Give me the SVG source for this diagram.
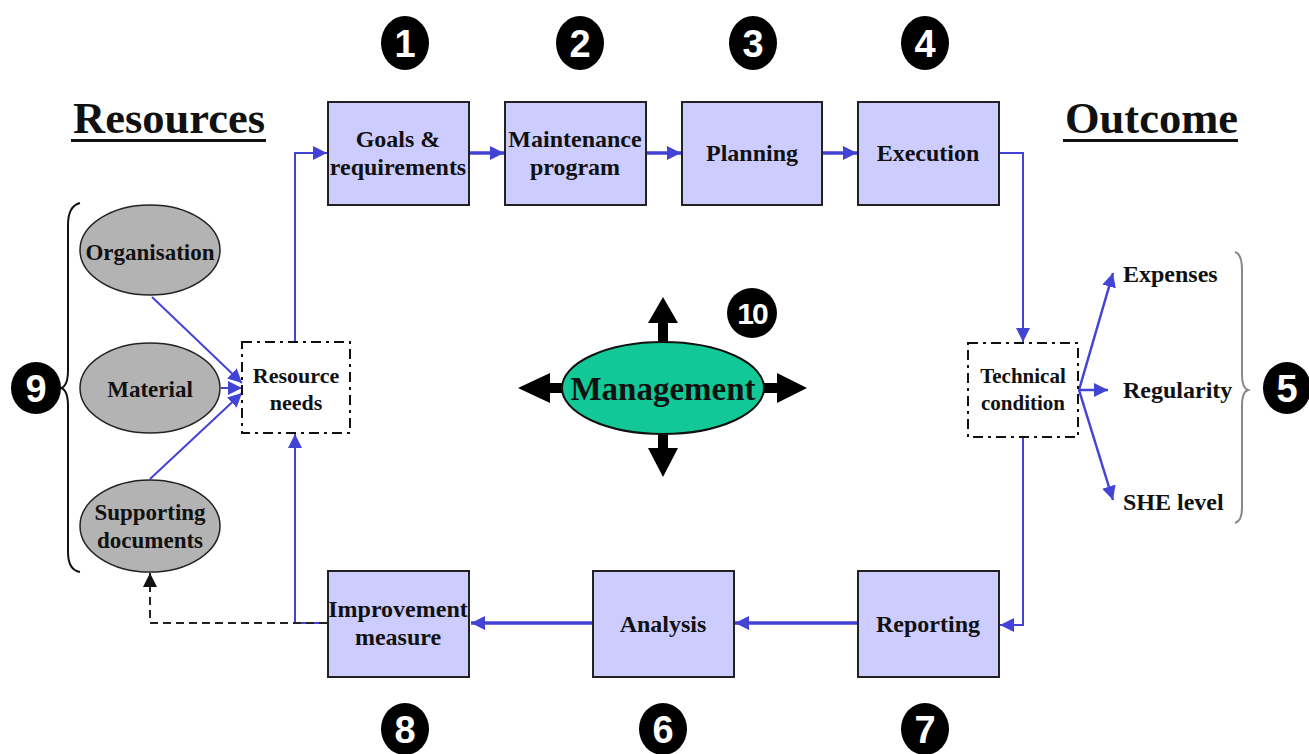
<svg xmlns="http://www.w3.org/2000/svg" width="1309" height="754" viewBox="0 0 1309 754">
<defs>
<style>
.box{fill:#ccccff;stroke:#222;stroke-width:2}
.ell{fill:#b3b3b3;stroke:#222;stroke-width:1.5}
.dd{fill:none;stroke:#111;stroke-width:2;stroke-dasharray:10 5 3 5}
.t{font-family:"Liberation Serif","Times New Roman",serif;font-weight:bold;fill:#111;text-anchor:middle}
.tl{font-family:"Liberation Serif","Times New Roman",serif;font-weight:bold;fill:#111}
.b{fill:none;stroke:#4343d6}
.num ellipse{fill:#000}
.num text{font-family:"Liberation Sans",Arial,sans-serif;font-weight:bold;fill:#fff;text-anchor:middle}
</style>
<marker id="ab" markerUnits="userSpaceOnUse" markerWidth="14" markerHeight="14" refX="14" refY="7" orient="auto"><path d="M0,0 L14,7 L0,14 z" fill="#4343d6"/></marker>
<marker id="ak" markerUnits="userSpaceOnUse" markerWidth="14" markerHeight="14" refX="14" refY="7" orient="auto"><path d="M0,0 L14,7 L0,14 z" fill="#111"/></marker>
</defs>
<rect width="1309" height="754" fill="#fff"/>

<g id="headers">
<text class="tl" x="73" y="133" font-size="44.5">Resources</text>
<rect x="71" y="139" width="195" height="3" fill="#111"/>
<text class="tl" x="1065" y="133" font-size="44.5">Outcome</text>
<rect x="1063" y="139" width="175" height="3" fill="#111"/>
</g>

<g id="connectors">
<line class="b" stroke-width="3.5" x1="470" y1="153" x2="504" y2="153" marker-end="url(#ab)"/>
<line class="b" stroke-width="3.5" x1="646" y1="153" x2="681" y2="153" marker-end="url(#ab)"/>
<line class="b" stroke-width="3.5" x1="822" y1="153" x2="857" y2="153" marker-end="url(#ab)"/>
<path class="b" stroke-width="2" d="M999,153 H1023 V342" marker-end="url(#ab)"/>
<path class="b" stroke-width="2" d="M1023,437 V625 H1000" marker-end="url(#ab)"/>
<line class="b" stroke-width="3.5" x1="857" y1="623" x2="735" y2="623" marker-end="url(#ab)"/>
<line class="b" stroke-width="3.5" x1="592" y1="623" x2="471" y2="623" marker-end="url(#ab)"/>
<path class="b" stroke-width="2" d="M327,623 H295 V434" marker-end="url(#ab)"/>
<path class="b" stroke-width="2" d="M295,342 V153 H327" marker-end="url(#ab)"/>
<path fill="none" stroke="#222" stroke-width="2" stroke-dasharray="8 5" d="M327,623 H150 V573" marker-end="url(#ak)"/>
<line class="b" stroke-width="2" x1="152" y1="297" x2="242" y2="383" marker-end="url(#ab)"/>
<line class="b" stroke-width="2" x1="221" y1="388" x2="242" y2="388" marker-end="url(#ab)"/>
<line class="b" stroke-width="2" x1="150" y1="479" x2="242" y2="393" marker-end="url(#ab)"/>
<line class="b" stroke-width="2.5" x1="1079" y1="390" x2="1113" y2="273" marker-end="url(#ab)"/>
<line class="b" stroke-width="2.5" x1="1079" y1="390" x2="1108" y2="390" marker-end="url(#ab)"/>
<line class="b" stroke-width="2.5" x1="1079" y1="390" x2="1113" y2="500" marker-end="url(#ab)"/>
</g>

<g id="goals">
<rect class="box" x="328" y="102" width="141" height="103"/>
<text class="t" x="398" y="147" font-size="24">Goals &amp;</text>
<text class="t" x="398" y="175" font-size="24">requirements</text>
</g>
<g id="maintenance">
<rect class="box" x="505" y="102" width="141" height="103"/>
<text class="t" x="575" y="147" font-size="24">Maintenance</text>
<text class="t" x="575" y="175" font-size="24">program</text>
</g>
<g id="planning">
<rect class="box" x="682" y="102" width="140" height="103"/>
<text class="t" x="752" y="161" font-size="24">Planning</text>
</g>
<g id="execution">
<rect class="box" x="858" y="102" width="141" height="103"/>
<text class="t" x="928" y="161" font-size="24">Execution</text>
</g>
<g id="reporting">
<rect class="box" x="858" y="571" width="141" height="106"/>
<text class="t" x="928" y="632" font-size="24">Reporting</text>
</g>
<g id="analysis">
<rect class="box" x="593" y="571" width="141" height="106"/>
<text class="t" x="663" y="632" font-size="24">Analysis</text>
</g>
<g id="improvement">
<rect class="box" x="328" y="571" width="141" height="106"/>
<text class="t" x="398" y="617" font-size="24">Improvement</text>
<text class="t" x="398" y="645" font-size="24">measure</text>
</g>

<g id="resource-needs">
<rect class="dd" x="242" y="342" width="108" height="91"/>
<text class="t" x="296" y="383" font-size="22">Resource</text>
<text class="t" x="296" y="410" font-size="22">needs</text>
</g>
<g id="technical-condition">
<rect class="dd" x="968" y="343" width="110" height="94"/>
<text class="t" x="1023" y="383" font-size="21">Technical</text>
<text class="t" x="1023" y="410" font-size="21">condition</text>
</g>

<g id="organisation">
<ellipse class="ell" cx="150" cy="250" rx="70" ry="45"/>
<text class="t" x="150" y="260" font-size="23">Organisation</text>
</g>
<g id="material">
<ellipse class="ell" cx="150" cy="388" rx="70" ry="45"/>
<text class="t" x="150" y="397" font-size="23">Material</text>
</g>
<g id="supporting-documents">
<ellipse class="ell" cx="150" cy="526" rx="70" ry="46"/>
<text class="t" x="150" y="520" font-size="23">Supporting</text>
<text class="t" x="150" y="548" font-size="23">documents</text>
</g>

<g id="outcomes">
<text class="tl" x="1123" y="282" font-size="24">Expenses</text>
<text class="tl" x="1123" y="398" font-size="24">Regularity</text>
<text class="tl" x="1123" y="510" font-size="24">SHE level</text>
<path d="M1235,252 Q1242,254 1242,270 V375 Q1242,388 1248,390 Q1242,392 1242,405 V508 Q1242,521 1235,523" fill="none" stroke="#888" stroke-width="2"/>
</g>

<g id="resources-brace">
<path d="M80,203 Q68,206 68,225 V370 Q68,386 61,388 Q68,390 68,406 V552 Q68,570 80,572" fill="none" stroke="#111" stroke-width="2"/>
</g>

<g id="management">
<rect x="658" y="322" width="10" height="22" fill="#000"/>
<polygon points="648,323 663,297 678,323" fill="#000"/>
<rect x="658" y="431" width="10" height="18" fill="#000"/>
<polygon points="648,448 663,477 678,448" fill="#000"/>
<rect x="549" y="383" width="15" height="10" fill="#000"/>
<polygon points="550,373 518,388 550,403" fill="#000"/>
<rect x="763" y="383" width="15" height="10" fill="#000"/>
<polygon points="777,373 807,388 777,403" fill="#000"/>
<ellipse cx="663" cy="388" rx="101" ry="46" fill="#12c897" stroke="#111" stroke-width="2"/>
<text class="t" x="663" y="400" font-size="33">Management</text>
</g>

<g id="numbers" class="num">
<ellipse cx="405" cy="43" rx="24" ry="27"/><text x="405" y="57" font-size="38">1</text>
<ellipse cx="580" cy="43" rx="24" ry="27"/><text x="580" y="57" font-size="38">2</text>
<ellipse cx="753" cy="43" rx="24" ry="27"/><text x="753" y="57" font-size="38">3</text>
<ellipse cx="925" cy="43" rx="24" ry="27"/><text x="925" y="57" font-size="38">4</text>
<ellipse cx="1287" cy="388" rx="24" ry="26"/><text x="1287" y="402" font-size="38">5</text>
<ellipse cx="663" cy="729" rx="24" ry="26"/><text x="663" y="743" font-size="38">6</text>
<ellipse cx="925" cy="729" rx="24" ry="26"/><text x="925" y="743" font-size="38">7</text>
<ellipse cx="405" cy="729" rx="24" ry="26"/><text x="405" y="743" font-size="38">8</text>
<ellipse cx="36" cy="388" rx="25" ry="26"/><text x="36" y="402" font-size="38">9</text>
<ellipse cx="752" cy="313" rx="25" ry="25"/><text x="752" y="324" font-size="30" letter-spacing="-2">10</text>
</g>
</svg>
